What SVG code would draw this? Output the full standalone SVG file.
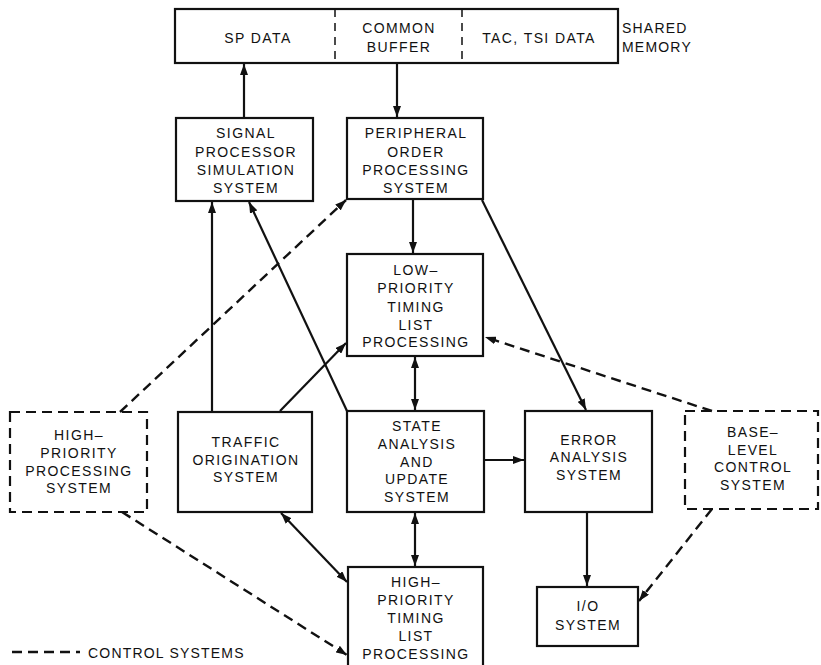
<svg xmlns="http://www.w3.org/2000/svg" width="821" height="665" viewBox="0 0 821 665">
<style>
.box{fill:#fff;stroke:#111;stroke-width:2.2}
.dbox{fill:#fff;stroke:#111;stroke-width:2.2;stroke-dasharray:10,6}
.t{font-family:"Liberation Sans",Arial,sans-serif;font-size:14px;fill:#111;text-anchor:middle;letter-spacing:1.4px}
.tl{font-family:"Liberation Sans",Arial,sans-serif;font-size:14px;fill:#111;letter-spacing:1.2px}
.c{stroke:#111;stroke-width:2.2;fill:none}
.d{stroke:#111;stroke-width:2.4;fill:none;stroke-dasharray:10,6}
.a{marker-end:url(#ah)}
.b{marker-end:url(#ah);marker-start:url(#ah)}
</style>
<defs>
<marker id="ah" viewBox="0 0 11 8" refX="11" refY="4" markerWidth="11" markerHeight="8" markerUnits="userSpaceOnUse" orient="auto-start-reverse">
<path d="M0,0 L11,4 L0,8 z" fill="#111"/>
</marker>
</defs>
<rect width="821" height="665" fill="#fff"/>

<g id="shared-memory">
<rect class="box" x="175" y="9" width="443" height="54"/>
<line x1="335" y1="9" x2="335" y2="63" stroke="#111" stroke-width="1.5" stroke-dasharray="8,6"/>
<line x1="462" y1="9" x2="462" y2="63" stroke="#111" stroke-width="1.5" stroke-dasharray="8,6"/>
<text class="t" x="258" y="43">SP DATA</text>
<text class="t" x="399" y="33">COMMON</text>
<text class="t" x="399" y="52">BUFFER</text>
<text class="t" x="539" y="43">TAC, TSI DATA</text>
<text class="tl" x="622" y="33">SHARED</text>
<text class="tl" x="622" y="52">MEMORY</text>
</g>

<g id="signal-processor">
<rect class="box" x="176" y="118" width="137" height="83"/>
<text class="t" x="246" y="138">SIGNAL</text>
<text class="t" x="246" y="157">PROCESSOR</text>
<text class="t" x="246" y="175">SIMULATION</text>
<text class="t" x="246" y="193">SYSTEM</text>
</g>

<g id="peripheral-order">
<rect class="box" x="347" y="118" width="136" height="81"/>
<text class="t" x="416" y="138">PERIPHERAL</text>
<text class="t" x="416" y="157">ORDER</text>
<text class="t" x="416" y="175">PROCESSING</text>
<text class="t" x="416" y="193">SYSTEM</text>
</g>

<g id="low-priority">
<rect class="box" x="347" y="254" width="136" height="102"/>
<text class="t" x="416" y="275">LOW–</text>
<text class="t" x="416" y="293">PRIORITY</text>
<text class="t" x="416" y="312">TIMING</text>
<text class="t" x="416" y="330">LIST</text>
<text class="t" x="416" y="347">PROCESSING</text>
</g>

<g id="high-priority-processing">
<rect class="dbox" x="10" y="412" width="137" height="100"/>
<text class="t" x="79" y="440">HIGH–</text>
<text class="t" x="79" y="458">PRIORITY</text>
<text class="t" x="79" y="476">PROCESSING</text>
<text class="t" x="79" y="493">SYSTEM</text>
</g>

<g id="traffic-origination">
<rect class="box" x="178" y="412" width="134" height="100"/>
<text class="t" x="246" y="447">TRAFFIC</text>
<text class="t" x="246" y="465">ORIGINATION</text>
<text class="t" x="246" y="482">SYSTEM</text>
</g>

<g id="state-analysis">
<rect class="box" x="347" y="411" width="137" height="101"/>
<text class="t" x="417" y="431">STATE</text>
<text class="t" x="417" y="449">ANALYSIS</text>
<text class="t" x="417" y="467">AND</text>
<text class="t" x="417" y="484">UPDATE</text>
<text class="t" x="417" y="502">SYSTEM</text>
</g>

<g id="error-analysis">
<rect class="box" x="525" y="411" width="127" height="101"/>
<text class="t" x="589" y="445">ERROR</text>
<text class="t" x="589" y="462">ANALYSIS</text>
<text class="t" x="589" y="480">SYSTEM</text>
</g>

<g id="base-level">
<rect class="dbox" x="685" y="411" width="133" height="98"/>
<text class="t" x="753" y="437">BASE–</text>
<text class="t" x="753" y="455">LEVEL</text>
<text class="t" x="753" y="472">CONTROL</text>
<text class="t" x="753" y="490">SYSTEM</text>
</g>

<g id="io-system">
<rect class="box" x="537" y="587" width="101" height="59"/>
<text class="t" x="588" y="611">I/O</text>
<text class="t" x="588" y="630">SYSTEM</text>
</g>

<g id="high-priority-timing">
<rect class="box" x="348" y="567" width="135" height="110"/>
<text class="t" x="416" y="587">HIGH–</text>
<text class="t" x="416" y="605">PRIORITY</text>
<text class="t" x="416" y="623">TIMING</text>
<text class="t" x="416" y="641">LIST</text>
<text class="t" x="416" y="659">PROCESSING</text>
</g>

<g id="connectors">
<line class="c a" x1="244" y1="118" x2="244" y2="64"/>
<line class="c a" x1="397" y1="64" x2="397" y2="117"/>
<line class="c a" x1="212" y1="411" x2="212" y2="202"/>
<line class="c a" x1="347" y1="411" x2="249" y2="202"/>
<line class="c a" x1="413" y1="200" x2="413" y2="253"/>
<line class="c a" x1="482" y1="200" x2="586" y2="410"/>
<line class="c a" x1="280" y1="411" x2="346" y2="343"/>
<line class="c b" x1="415" y1="357" x2="415" y2="410"/>
<line class="c a" x1="485" y1="460" x2="524" y2="460"/>
<line class="c b" x1="415" y1="513" x2="415" y2="566"/>
<line class="c b" x1="281" y1="513" x2="347" y2="582"/>
<line class="c a" x1="587" y1="513" x2="587" y2="586"/>
<line class="d a" x1="120" y1="412" x2="346" y2="200"/>
<line class="d a" x1="122" y1="512" x2="347" y2="655"/>
<line class="d a" x1="712" y1="411" x2="485" y2="337"/>
<line class="d a" x1="712" y1="509" x2="639" y2="601"/>
</g>

<g id="legend">
<line x1="12" y1="652" x2="80" y2="652" stroke="#111" stroke-width="2.4" stroke-dasharray="10,6"/>
<text class="tl" x="88" y="658">CONTROL SYSTEMS</text>
</g>
</svg>
